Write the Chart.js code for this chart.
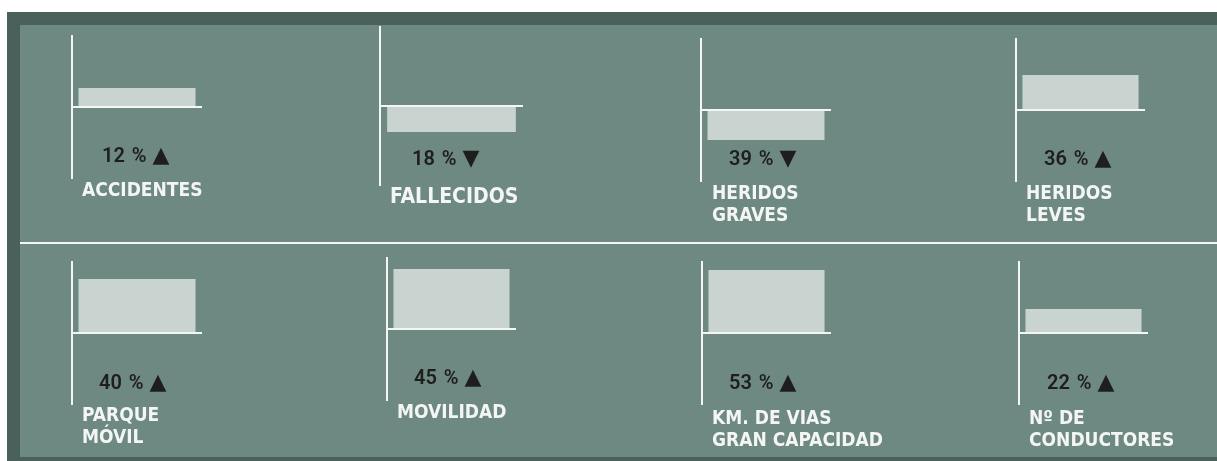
<!DOCTYPE html>
<html lang="es">
<head>
    <meta charset="UTF-8">
    <title>Indicadores</title>
    <script src="https://cdn.jsdelivr.net/npm/chart.js"></script>
    <style>
        body { margin: 0; background: #fff; width: 1217px; height: 461px; overflow: hidden; position: relative; }
        .frame { position: absolute; left: 7px; top: 12px; width: 1210px; height: 449px; background: #4a615b; }
        .panel { position: absolute; left: 20px; top: 25px; width: 1197px; height: 432px; background: #6e8981; }
        .sep { position: absolute; left: 20px; top: 242px; width: 1197px; height: 2px; background: #f4f6f5; }
        canvas { position: absolute; }
        .pct { position: absolute; font-family: Roboto, "Liberation Sans", sans-serif; font-weight: 600; font-size: 20px; line-height: 20px; color: #1e1e1e; white-space: nowrap; word-spacing: 2px; }
        .pct .tri { font-family: "DejaVu Sans", sans-serif; font-size: 22px; margin-left: 6px; }
        .name { position: absolute; font-family: "Liberation Sans Narrow", "DejaVu Sans Condensed", sans-serif; font-weight: bold; color: #f4f6f5; white-space: nowrap; }
    </style>
</head>
<body>
    <div class="frame"></div>
    <div class="panel"></div>
    <div class="sep"></div>
    <div id="charts"></div>

    <script>
        // datos
        const categories = [
            ['ACCIDENTES'],
            ['FALLECIDOS'],
            ['HERIDOS', 'GRAVES'],
            ['HERIDOS', 'LEVES'],
            ['PARQUE', 'MÓVIL'],
            ['MOVILIDAD'],
            ['KM. DE VIAS', 'GRAN CAPACIDAD'],
            ['Nº DE', 'CONDUCTORES']
        ];
        const changePct = [12, 18, 39, 36, 40, 45, 53, 22];
        const trend = ['up', 'down', 'down', 'up', 'up', 'up', 'up', 'up'];
        // largo de cada barra (unidades relativas, negativo = hacia abajo)
        const barValues = [19, -26, -30, 35, 54, 60, 63, 24];

        // posiciones de cada panel: eje x, linea base y, alto del eje, fin de la base,
        // etiqueta % (x, centro y), nombre (x, arriba, tamaño)
        const layout = [
            { axisX: 72,   baseY: 107, ext: 72, endX: 202,  pctX: 102,  pctY: 155, nameX: 82,   nameY: 181, size: 19 },
            { axisX: 380,  baseY: 106, ext: 80, endX: 523,  pctX: 412,  pctY: 158, nameX: 390,  nameY: 187, size: 21 },
            { axisX: 701,  baseY: 110, ext: 72, endX: 831,  pctX: 729,  pctY: 158, nameX: 712,  nameY: 184, size: 19 },
            { axisX: 1016, baseY: 110, ext: 72, endX: 1145, pctX: 1044, pctY: 158, nameX: 1026, nameY: 184, size: 19 },
            { axisX: 72,   baseY: 333, ext: 72, endX: 202,  pctX: 99,   pctY: 382, nameX: 82,   nameY: 406, size: 19 },
            { axisX: 387,  baseY: 329, ext: 72, endX: 516,  pctX: 414,  pctY: 377, nameX: 397,  nameY: 403, size: 19 },
            { axisX: 702,  baseY: 333, ext: 72, endX: 831,  pctX: 729,  pctY: 382, nameX: 712,  nameY: 409, size: 19 },
            { axisX: 1019, baseY: 333, ext: 72, endX: 1148, pctX: 1047, pctY: 382, nameX: 1029, nameY: 409, size: 19 }
        ];

        const holder = document.getElementById('charts');
        const pad = 4;

        categories.forEach((lines, i) => {
            const p = layout[i];

            const canvas = document.createElement('canvas');
            canvas.width = p.endX - p.axisX + pad;
            canvas.height = p.ext * 2;
            canvas.style.left = (p.axisX - pad) + 'px';
            canvas.style.top = (p.baseY - p.ext) + 'px';
            holder.appendChild(canvas);

            new Chart(canvas.getContext('2d'), {
                type: 'bar',
                data: {
                    labels: [lines.join(' ')],
                    datasets: [{
                        data: [barValues[i]],
                        backgroundColor: '#c9d3d0',
                        borderWidth: 0,
                        barPercentage: 0.9,
                        categoryPercentage: 1
                    }]
                },
                options: {
                    responsive: false,
                    animation: false,
                    devicePixelRatio: 1,
                    layout: { padding: { left: pad, right: 0, top: 0, bottom: 0 } },
                    plugins: { legend: { display: false }, tooltip: { enabled: false } },
                    scales: {
                        x: { display: false },
                        y: {
                            z: 1,
                            min: -p.ext,
                            max: p.ext,
                            ticks: { display: false, stepSize: p.ext },
                            grid: {
                                drawTicks: false,
                                lineWidth: 2,
                                color: ctx => ctx.tick && ctx.tick.value === 0 ? '#f4f6f5' : 'rgba(0,0,0,0)'
                            },
                            border: { display: true, color: '#f4f6f5', width: 2 }
                        }
                    }
                }
            });

            const pct = document.createElement('div');
            pct.className = 'pct';
            pct.style.left = p.pctX + 'px';
            pct.style.top = (p.pctY - 10) + 'px';
            pct.innerHTML = changePct[i] + ' %<span class="tri">' + (trend[i] === 'up' ? '▲' : '▼') + '</span>';
            holder.appendChild(pct);

            const name = document.createElement('div');
            name.className = 'name';
            name.style.left = p.nameX + 'px';
            name.style.top = (p.nameY - 3) + 'px';
            name.style.fontSize = p.size + 'px';
            name.style.lineHeight = (p.size + 3) + 'px';
            name.innerHTML = lines.join('<br>');
            holder.appendChild(name);
        });
    </script>
</body>
</html>
